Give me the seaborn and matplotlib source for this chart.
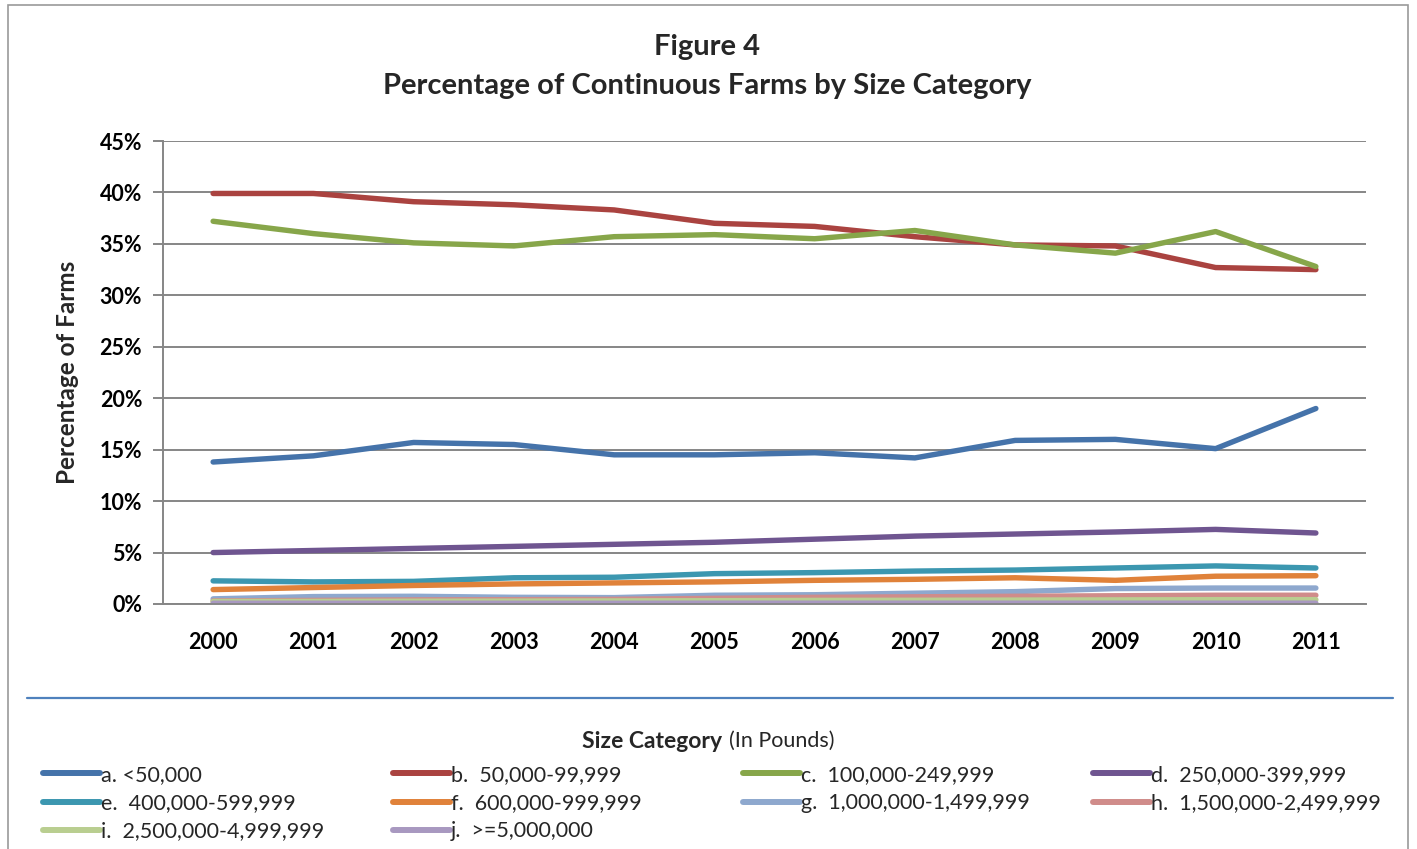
import numpy as np
import pandas as pd
import matplotlib
matplotlib.use("Agg")
import matplotlib.pyplot as plt
from matplotlib.patches import Rectangle
from matplotlib.lines import Line2D
import seaborn as sns

years = ["2000", "2001", "2002", "2003", "2004", "2005",
         "2006", "2007", "2008", "2009", "2010", "2011"]

categories = [
    "a. <50,000",
    "b.  50,000-99,999",
    "c.  100,000-249,999",
    "d.  250,000-399,999",
    "e.  400,000-599,999",
    "f.  600,000-999,999",
    "g.  1,000,000-1,499,999",
    "h.  1,500,000-2,499,999",
    "i.  2,500,000-4,999,999",
    "j.  >=5,000,000",
]

# Percentage of farms per size category, 2000-2011
pct_a = [13.8, 14.4, 15.7, 15.5, 14.5, 14.5, 14.7, 14.2, 15.9, 16.0, 15.1, 19.0]
pct_b = [39.9, 39.9, 39.1, 38.8, 38.3, 37.0, 36.7, 35.7, 34.9, 34.8, 32.7, 32.5]
pct_c = [37.2, 36.0, 35.1, 34.8, 35.7, 35.9, 35.5, 36.3, 34.9, 34.1, 36.2, 32.8]
pct_d = [5.0, 5.2, 5.4, 5.6, 5.8, 6.0, 6.3, 6.6, 6.8, 7.0, 7.25, 6.9]
pct_e = [2.25, 2.15, 2.2, 2.55, 2.6, 2.95, 3.05, 3.2, 3.3, 3.5, 3.7, 3.5]
pct_f = [1.4, 1.6, 1.8, 1.95, 2.05, 2.15, 2.3, 2.4, 2.55, 2.3, 2.7, 2.75]
pct_g = [0.5, 0.72, 0.75, 0.65, 0.62, 0.85, 0.9, 1.05, 1.2, 1.5, 1.55, 1.55]
pct_h = [0.3, 0.35, 0.4, 0.42, 0.45, 0.55, 0.65, 0.7, 0.75, 0.8, 0.85, 0.85]
pct_i = [0.25, 0.25, 0.27, 0.28, 0.3, 0.32, 0.35, 0.36, 0.38, 0.4, 0.42, 0.42]
pct_j = [0.07, 0.07, 0.07, 0.07, 0.07, 0.08, 0.08, 0.08, 0.08, 0.08, 0.08, 0.08]

series = [pct_a, pct_b, pct_c, pct_d, pct_e, pct_f, pct_g, pct_h, pct_i, pct_j]

colors = ["#4573AA", "#AA4340", "#87A64A", "#6F5590", "#3C97B0",
          "#E0823A", "#8EA8CE", "#D08C8A", "#B9CE90", "#A898C0"]

yticks = [0, 5, 10, 15, 20, 25, 30, 35, 40, 45]

rows = []
for cat, vals in zip(categories, series):
    for i, (yr, v) in enumerate(zip(years, vals)):
        rows.append({"pos": i, "Year": yr, "Category": cat, "Percent": v})
df = pd.DataFrame(rows)

sns.set_theme(style="white")
plt.rcParams["font.family"] = ["Lato", "DejaVu Sans"]

W, H = 1417, 849
fig = plt.figure(figsize=(W / 100, H / 100), dpi=100)
ax = fig.add_axes([163 / W, 1 - 604 / H, (1366 - 163) / W, (604 - 141) / H])

grid_c = "#868686"
sns.lineplot(data=df, x="pos", y="Percent", hue="Category",
             hue_order=categories, palette=colors, linewidth=3.9,
             ax=ax, legend=False, solid_capstyle="round")

ax.set_xlim(-0.5, len(years) - 0.5)
ax.set_ylim(0, 45)
ax.set_yticks(yticks)
ax.set_yticklabels([f"{t}%" for t in yticks], fontsize=15.5, fontweight="bold")
ax.set_xticks(range(len(years)))
ax.set_xticklabels(years, fontsize=15.5, fontweight="bold")
ax.set_xticks(np.arange(-0.5, len(years), 1.0), minor=True)
ax.tick_params(axis="x", which="major", length=0, pad=20)
ax.tick_params(axis="x", which="minor", length=7, width=1.4, color=grid_c, direction="out")
ax.tick_params(axis="y", which="major", length=7, width=1.4, color=grid_c,
               direction="out", pad=8, left=True)
ax.yaxis.grid(True, color=grid_c, linewidth=1.4)
ax.set_axisbelow(True)
for s in ["top", "right"]:
    ax.spines[s].set_visible(False)
for s in ["left", "bottom"]:
    ax.spines[s].set_color(grid_c)
    ax.spines[s].set_linewidth(1.4)
ax.set_xlabel("")
ax.set_ylabel("Percentage of Farms", fontsize=17.5, fontweight="bold", labelpad=15)
for lbl in ax.get_xticklabels() + ax.get_yticklabels():
    lbl.set_color("black")

# Title
fig.text(707 / W, 1 - 47 / H, "Figure 4", ha="center", va="center",
         fontsize=21, fontweight="bold")
fig.text(707 / W, 1 - 86 / H, "Percentage of Continuous Farms by Size Category",
         ha="center", va="center", fontsize=21, fontweight="bold")

# Outer frame and separator
fig.patches.append(Rectangle((8 / W, -0.05), (1408 - 8) / W, 1 - 5 / H + 0.05,
                             transform=fig.transFigure, fill=False,
                             edgecolor="#9a9a9a", linewidth=1.2))
fig.add_artist(Line2D([27 / W, 1393 / W], [1 - 698 / H, 1 - 698 / H],
                      transform=fig.transFigure, color="#4F81BD", linewidth=1.6))

# Legend title
fig.text(722 / W, 1 - 741 / H, "Size Category", ha="right", va="center",
         fontsize=16.5, fontweight="bold")
fig.text(729 / W, 1 - 741 / H, "(In Pounds)", ha="left", va="center", fontsize=15.5)

# Legend: four evenly spaced columns
handles = [Line2D([], [], color=c, linewidth=4.3, solid_capstyle="round") for c in colors]
col_x = [43, 393, 743, 1093]
for ci, cx in enumerate(col_x):
    idx = list(range(ci, len(categories), 4))
    fig.legend([handles[i] for i in idx], [categories[i] for i in idx],
               loc="upper left", bbox_to_anchor=(cx / W, 1 - 765 / H),
               frameon=False, fontsize=15.5, handlelength=2.65, handletextpad=0.05,
               labelspacing=0.38, borderpad=0, borderaxespad=0)

fig.savefig("out.png", dpi=100, facecolor="white")
